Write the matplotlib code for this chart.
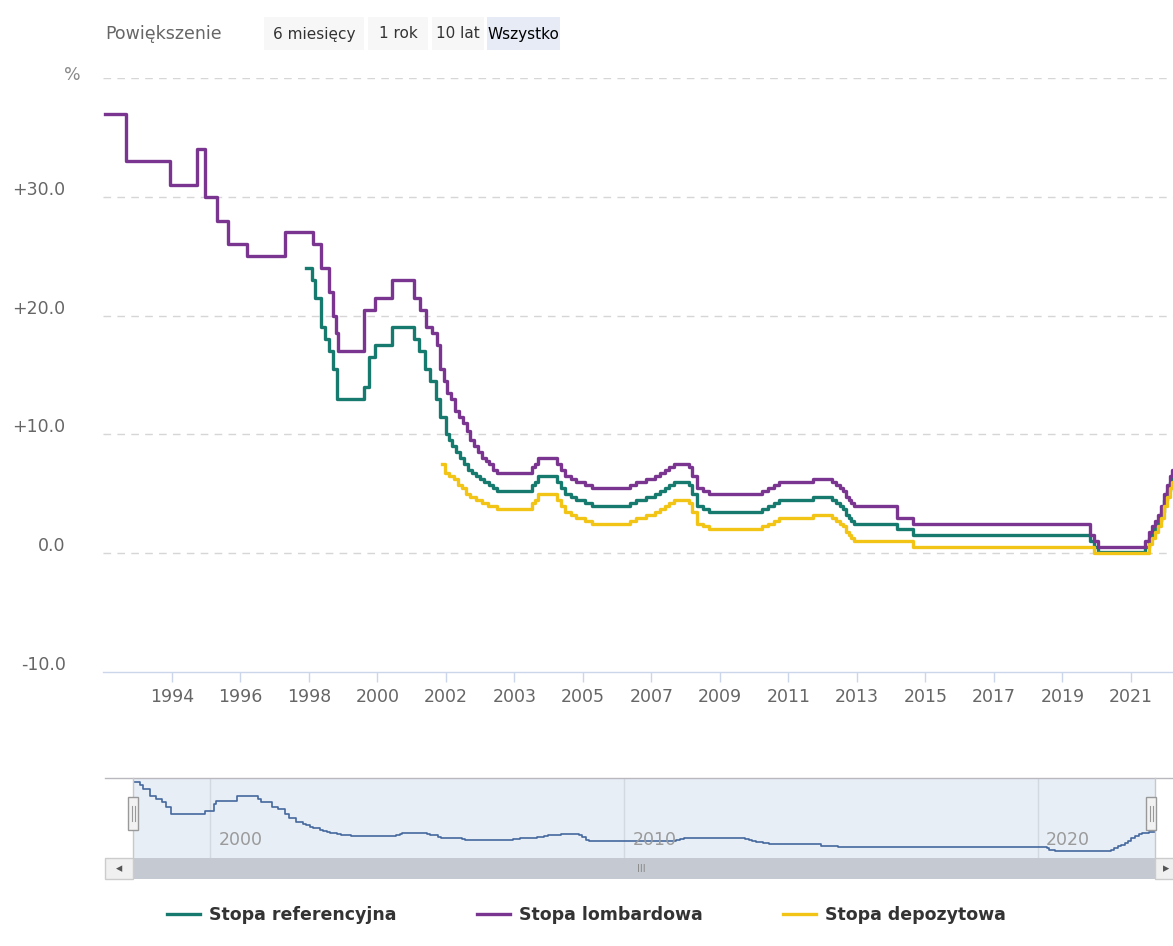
import matplotlib
matplotlib.use("Agg")
import matplotlib.pyplot as plt
from matplotlib.transforms import ScaledTranslation, blended_transform_factory
from matplotlib.patches import Rectangle
from matplotlib.lines import Line2D

# ---------------- DATA ----------------
# Ordinal x-axis (Highcharts stock "ordinal"): position units, year ticks every 10 units
tick_pos = [0, 10, 20, 30, 40, 50, 60, 70, 80, 90, 100, 110, 120, 130, 140]
tick_labels = ["1994", "1996", "1998", "2000", "2002", "2003", "2005", "2007",
               "2009", "2011", "2013", "2015", "2017", "2019", "2021"]

# early part of each series (ordinal positions / values)
lomb_early_pos = [-9.8, -6.7, -0.3, 3.6, 4.8, 6.6, 8.2, 11.0, 16.5, 20.6, 21.8, 22.9,
                  23.5, 23.9, 24.2, 28.0, 29.6, 32.1, 35.3, 36.2, 37.1, 38.0, 38.7,
                  39.1, 39.7, 40.2, 40.7, 41.3, 41.9, 42.5, 43.1, 43.5, 44.1, 44.7,
                  45.3, 45.8, 46.3, 46.9]
lomb_early_val = [37, 33, 31, 34, 30, 28, 26, 25, 27, 26, 24, 22,
                  20, 18.5, 17, 20.5, 21.5, 23, 21.5, 20.5, 19, 18.5, 17.5,
                  15.5, 14.5, 13.5, 13, 12, 11.5, 11, 10.25, 9.5, 9, 8.5,
                  8, 7.75, 7.5, 7.0]

ref_early_pos = [19.6, 20.4, 20.9, 21.8, 22.3, 22.9, 23.5, 24.1, 28.0, 28.8, 29.6,
                 32.1, 35.3, 36.1, 36.9, 37.7, 38.5, 39.1, 40.0, 40.4, 40.9, 41.5,
                 42.0, 42.6, 43.2, 43.8, 44.4, 45.0, 45.5, 46.3, 46.9]
ref_early_dates = [1998.15, 1998.31, 1998.39, 1998.54, 1998.69, 1998.83, 1998.94,
                   1999.05, 1999.88, 2000.10, 2000.15, 2000.66, 2001.16, 2001.24,
                   2001.49, 2001.64, 2001.82, 2001.91, 2002.08, 2002.24, 2002.32,
                   2002.41, 2002.49, 2002.66, 2002.74, 2002.82, 2002.91, 2002.97,
                   2003.08, 2003.16, 2003.24]
ref_early_val = [24, 23, 21.5, 19, 18, 17, 15.5, 13, 14, 16.5, 17.5,
                 19, 18, 17, 15.5, 14.5, 13, 11.5, 10, 9.5, 9.0, 8.5,
                 8.0, 7.5, 7.0, 6.75, 6.5, 6.25, 6.0, 5.75, 5.5]

dep_early_pos = [39.4, 39.9, 40.4, 41.2, 41.8, 42.3, 42.9, 43.5, 44.4, 45.3, 46.1]
dep_early_val = [7.5, 6.75, 6.5, 6.25, 5.75, 5.5, 5.0, 4.75, 4.5, 4.25, 4.0]

# common part (same decision dates for all three rates)
common_pos = [47.4, 52.6, 53.0, 53.4, 56.2, 56.8, 57.4, 58.2, 59.0, 60.3, 61.3,
              66.9, 67.7, 69.2, 70.5, 71.2, 72.0, 72.6, 73.3, 75.5, 75.9, 76.6,
              77.5, 78.4, 86.1, 87.0, 87.9, 88.6, 93.6, 96.4, 96.9, 97.5, 98.0,
              98.4, 98.8, 99.1, 99.6, 105.8, 108.2, 134.0, 134.6, 135.2, 142.0,
              142.6, 143.1, 143.5, 143.9, 144.4, 144.8, 145.3, 145.7, 146.0,
              146.4, 147.5]
common_dates = [2003.41, 2004.50, 2004.58, 2004.65, 2005.25, 2005.32, 2005.50,
                2005.57, 2005.66, 2006.08, 2006.16, 2007.32, 2007.49, 2007.66,
                2007.91, 2008.08, 2008.16, 2008.24, 2008.49, 2008.91, 2008.98,
                2009.08, 2009.16, 2009.48, 2011.05, 2011.26, 2011.36, 2011.44,
                2012.36, 2012.85, 2012.93, 2013.03, 2013.10, 2013.18, 2013.35,
                2013.43, 2013.51, 2014.77, 2015.17, 2020.21, 2020.27, 2020.41,
                2021.77, 2021.84, 2021.94, 2022.01, 2022.11, 2022.18, 2022.26,
                2022.34, 2022.44, 2022.52, 2022.69, 2022.83]
lomb_common = [6.75, 7.25, 7.5, 8.0, 7.5, 7.0, 6.5, 6.25, 6.0, 5.75, 5.5,
               5.75, 6.0, 6.25, 6.5, 6.75, 7.0, 7.25, 7.5, 7.25, 6.5, 5.5,
               5.25, 5.0, 5.25, 5.5, 5.75, 6.0, 6.25, 6.0, 5.75, 5.5, 5.25,
               4.75, 4.5, 4.25, 4.0, 3.0, 2.5, 1.5, 1.0, 0.5, 1.0,
               1.75, 2.25, 2.75, 3.25, 4.0, 5.0, 5.75, 6.5, 7.0, 7.25, 7.25]
ref_common = [5.25, 5.75, 6.0, 6.5, 6.0, 5.5, 5.0, 4.75, 4.5, 4.25, 4.0,
              4.25, 4.5, 4.75, 5.0, 5.25, 5.5, 5.75, 6.0, 5.75, 5.0, 4.0,
              3.75, 3.5, 3.75, 4.0, 4.25, 4.5, 4.75, 4.5, 4.25, 4.0, 3.75,
              3.25, 3.0, 2.75, 2.5, 2.0, 1.5, 1.0, 0.5, 0.1, 0.5,
              1.25, 1.75, 2.25, 2.75, 3.5, 4.5, 5.25, 6.0, 6.5, 6.75, 6.75]
dep_common = [3.75, 4.25, 4.5, 5.0, 4.5, 4.0, 3.5, 3.25, 3.0, 2.75, 2.5,
              2.75, 3.0, 3.25, 3.5, 3.75, 4.0, 4.25, 4.5, 4.25, 3.5, 2.5,
              2.25, 2.0, 2.25, 2.5, 2.75, 3.0, 3.25, 3.0, 2.75, 2.5, 2.25,
              1.75, 1.5, 1.25, 1.0, 1.0, 0.5, 0.5, 0.0, 0.0, 0.0,
              0.75, 1.25, 1.75, 2.25, 3.0, 4.0, 4.75, 5.5, 6.0, 6.25, 6.25]

series_names = ["Stopa referencyjna", "Stopa lombardowa", "Stopa depozytowa"]
series_colors = ["#167a6e", "#7a3590", "#f2c416"]

y_ticks = [-10, 0, 10, 20, 30, 40]
y_labels = ["-10.0", "0.0", "+10.0", "+20.0", "+30.0", ""]
y_unit = "%"

nav_ticks = [2000, 2010, 2020]
buttons = ["6 miesięcy", "1 rok", "10 lat", "Wszystko"]

# ---------------- FIGURE ----------------
W, H = 1173, 946
fig = plt.figure(figsize=(W / 100, H / 100), dpi=100)
fig.patch.set_facecolor("white")


def box(l, t, r, b):
    return [l / W, 1 - b / H, (r - l) / W, (b - t) / H]


TXT = "#666666"
FS = 12.5
ax = fig.add_axes(box(103, 78, 1182, 672))
ax.set_xlim(-10.07, 147.45)
ax.set_ylim(-10, 40)

lines = []
for pos, val, col in [
    (ref_early_pos + common_pos, ref_early_val + ref_common, series_colors[0]),
    (lomb_early_pos + common_pos, lomb_early_val + lomb_common, series_colors[1]),
    (dep_early_pos + common_pos, dep_early_val + dep_common, series_colors[2]),
]:
    ln, = ax.step(pos, val, where="post", color=col, lw=2.4, zorder=3)
    lines.append(ln)

for s in ["top", "left", "right"]:
    ax.spines[s].set_visible(False)
ax.spines["bottom"].set_color("#ccd6eb")
ax.spines["bottom"].set_linewidth(1.0)

ax.set_yticks(y_ticks)
ax.set_yticklabels(y_labels)
ax.tick_params(axis="y", length=0, pad=27, labelsize=FS, labelcolor=TXT)
off = ScaledTranslation(0, 6.5 / 72, fig.dpi_scale_trans)
for lab in ax.get_yticklabels():
    lab.set_transform(lab.get_transform() + off)
for yv in y_ticks[1:]:
    ax.axhline(yv, color="#d6d6d6", lw=1.0, dashes=(5.5, 4.5), zorder=1)
ax.text(0, 40, y_unit, transform=blended_transform_factory(fig.transFigure, ax.transData)
        + ScaledTranslation(72 / 100, 2 / 72, fig.dpi_scale_trans),
        fontsize=FS, color="#888888", ha="center", va="center")

ax.set_xticks(tick_pos)
ax.set_xticklabels(tick_labels)
ax.tick_params(axis="x", length=7.5, width=1, color="#ccd6eb", pad=4,
               labelsize=FS, labelcolor=TXT)

# ---------------- RANGE SELECTOR ----------------
fig.text(105 / W, 1 - 34 / H, "Powiększenie", fontsize=FS, color=TXT,
         ha="left", va="center")
btn_geo = [(264, 364), (368, 428), (432, 484), (487, 560)]
for (l, r), label in zip(btn_geo, buttons):
    sel = label == "Wszystko"
    fig.patches.append(Rectangle((l / W, 1 - 50 / H), (r - l) / W, 33 / H,
                                 transform=fig.transFigure,
                                 facecolor="#e6ebf5" if sel else "#f7f7f7",
                                 edgecolor="none"))
    fig.text((l + r) / 2 / W, 1 - 34 / H, label, fontsize=11,
             color="#000000" if sel else "#333333", ha="center", va="center")

# ---------------- NAVIGATOR ----------------
nav = fig.add_axes(box(133, 778, 1155, 858))
nav.set_facecolor("#e8eef6")
nav.set_xlim(1998.14, 2022.83)
nav.set_ylim(-2.3, 25.4)
nav.step(ref_early_dates + common_dates, ref_early_val + ref_common, where="post",
         color="#45689e", lw=1.2, zorder=3)
for s in nav.spines.values():
    s.set_visible(False)
nav.set_yticks([])
nav.set_xticks(nav_ticks)
nav.set_xticklabels([])
nav.tick_params(axis="x", length=0)
nav.grid(axis="x", color="#d3d9e1", lw=1)
tr = blended_transform_factory(nav.transData, nav.transAxes)
for yr in nav_ticks:
    nav.text(yr, 0.22, str(yr), transform=tr + ScaledTranslation(6 / 72, 0, fig.dpi_scale_trans),
             fontsize=12.5, color="#9a9a9a", ha="left", va="center")

# outline
fig.lines.append(Line2D([105 / W, 1180 / W], [1 - 778 / H] * 2, transform=fig.transFigure,
                        color="#b8b8be", lw=1))
for xp in (133, 1155):
    fig.lines.append(Line2D([xp / W] * 2, [1 - 778 / H, 1 - 858 / H], transform=fig.transFigure,
                            color="#c8c8cc", lw=1))

# scrollbar
fig.patches.append(Rectangle((105 / W, 1 - 879 / H), (1180 - 105) / W, 21 / H,
                             transform=fig.transFigure, facecolor="#c5cad2", edgecolor="none"))
for l, r in [(105, 133), (1155, 1183)]:
    fig.patches.append(Rectangle((l / W, 1 - 879 / H), (r - l) / W, 21 / H,
                                 transform=fig.transFigure, facecolor="#f0f0f0",
                                 edgecolor="#cccccc", lw=1))
fig.text(119 / W, 1 - 869 / H, "◂", fontsize=9, color="#555555", ha="center", va="center")
fig.text(1166 / W, 1 - 869 / H, "▸", fontsize=9, color="#555555", ha="center", va="center")
fig.text(641 / W, 1 - 869 / H, "III", fontsize=7, color="#888888", ha="center", va="center")

# handles
for xc in (133, 1151):
    fig.patches.append(Rectangle(((xc - 5) / W, 1 - 830 / H), 10 / W, 33 / H,
                                 transform=fig.transFigure, facecolor="#f2f2f2",
                                 edgecolor="#999999", lw=1, zorder=5))
    for dx in (-1.5, 1.5):
        fig.lines.append(Line2D([(xc + dx) / W] * 2, [1 - 806 / H, 1 - 821 / H],
                                transform=fig.transFigure, color="#999999", lw=0.8,
                                zorder=6))

# ---------------- LEGEND ----------------
leg = fig.legend(lines, series_names, loc="center", bbox_to_anchor=(0.5, 1 - 915 / H),
                 ncol=3, frameon=False, handlelength=1.9, handletextpad=0.55,
                 columnspacing=4.6, prop={"weight": "bold", "size": 12.5})
for t in leg.get_texts():
    t.set_color("#333333")

fig.savefig("out.png", dpi=100)
